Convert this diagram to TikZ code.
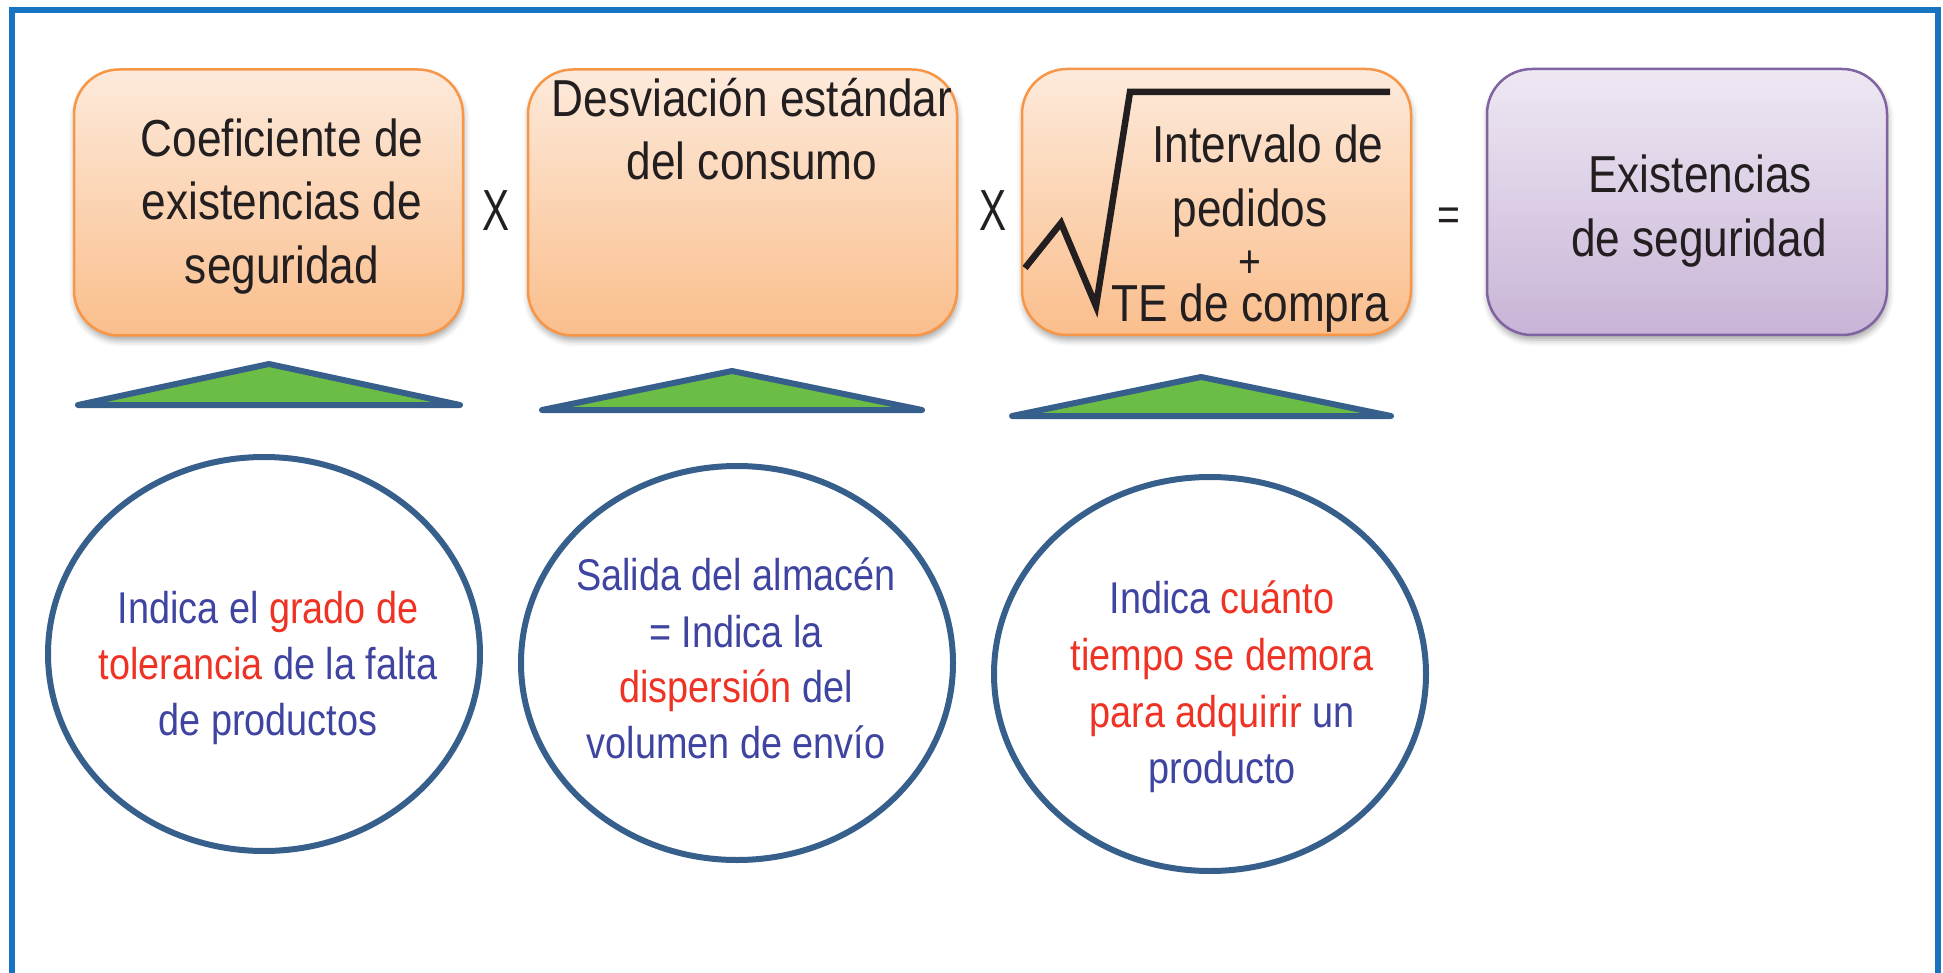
\documentclass[tikz,border=0pt]{standalone}
\usepackage{fontspec}
\usetikzlibrary{shapes.geometric,shadows.blur}
\newfontfamily\nar{Liberation Sans}[FakeStretch=0.85]
\newfontfamily\narx{Liberation Sans}[FakeStretch=0.7]
\definecolor{framec}{RGB}{24,116,192}
\definecolor{orgtop}{RGB}{253,234,219}
\definecolor{orgbot}{RGB}{250,190,140}
\definecolor{orgline}{RGB}{247,150,70}
\definecolor{purtop}{RGB}{238,232,243}
\definecolor{purbot}{RGB}{200,180,215}
\definecolor{purline}{RGB}{128,100,162}
\definecolor{navy}{RGB}{55,95,140}
\definecolor{trigreen}{RGB}{108,189,69}
\definecolor{tblue}{RGB}{62,68,160}
\definecolor{tred}{RGB}{238,51,36}
\definecolor{tdark}{RGB}{35,31,32}
\begin{document}
\begin{tikzpicture}[x=1pt,y=-1pt,
  frameline/.style={draw=framec,line width=6pt},
  boxbase/.style={rectangle,rounded corners=45pt,line width=2.5pt,inner sep=0pt,
     blur shadow={shadow xshift=1pt,shadow yshift=-5pt,shadow blur radius=6pt,shadow opacity=35}},
  orangebox/.style={boxbase,draw=orgline,top color=orgtop,bottom color=orgbot},
  purplebox/.style={boxbase,draw=purline,top color=purtop,bottom color=purbot},
  boxtxt/.style={font=\nar\fontsize{52}{62}\selectfont,text=tdark,anchor=base,inner sep=0pt},
  plustxt/.style={font=\nar\fontsize{46}{50}\selectfont,text=tdark,anchor=center,inner sep=0pt},
  optxt/.style={font=\narx\fontsize{58}{62}\selectfont,text=tdark,anchor=base,inner sep=0pt},
  eqtxt/.style={font=\nar\fontsize{46}{50}\selectfont,text=tdark,anchor=center,inner sep=0pt},
  elltxt/.style={font=\nar\fontsize{44.5}{56}\selectfont,text=tblue,anchor=base,inner sep=0pt},
  oval/.style={ellipse,draw=navy,line width=6pt,inner sep=0pt,minimum width=432pt,minimum height=394pt},
  wedge/.style={draw=navy,fill=trigreen,line width=6pt,line join=round,line cap=round},
  radical/.style={draw=tdark,line width=6.5pt,line join=miter},
]
\useasboundingbox (0,0) rectangle (1943,973);

% frame
\coordinate (f1) at (12,973);
\coordinate (f2) at (12,10);
\coordinate (f3) at (1938,10);
\coordinate (f4) at (1938,973);
\draw[frameline] (f1) -- (f2) -- (f3) -- (f4);

% boxes
\node[orangebox,minimum width=389pt,minimum height=266pt] (b1) at (268.5,202.5) {};
\node[orangebox,minimum width=429pt,minimum height=266pt] (b2) at (742.5,202.5) {};
\node[orangebox,minimum width=389pt,minimum height=266pt] (b3) at (1216.5,202) {};
\node[purplebox,minimum width=400pt,minimum height=266pt] (b4) at (1687,202) {};

% box texts
\node[boxtxt] (b1a) at (282,157) {Coeficiente de};
\node[boxtxt] (b1b) at (282,220) {existencias de};
\node[boxtxt] (b1c) at (282,284) {seguridad};
\node[boxtxt] (b2a) at (752,117) {Desviación estándar};
\node[boxtxt] (b2b) at (752,180) {del consumo};
\node[boxtxt] (b3a) at (1268,163) {Intervalo de};
\node[boxtxt] (b3b) at (1250,227) {pedidos};
\node[plustxt] (b3c) at (1250,264) {+};
\node[boxtxt] (b3d) at (1250,322) {TE de compra};
\node[boxtxt] (b4a) at (1700,193) {Existencias};
\node[boxtxt] (b4b) at (1699,257) {de seguridad};

% radical sign
\coordinate (r1) at (1025,268);
\coordinate (r2) at (1061,223);
\coordinate (r3) at (1096,306);
\coordinate (r4) at (1130,92);
\coordinate (r5) at (1390,92);
\draw[radical] (r1) -- (r2) -- (r3) -- (r4) -- (r5);

% operators
\node[optxt] (x1) at (496,231) {X};
\node[optxt] (x2) at (993,231) {X};
\node[eqtxt] (eq) at (1449,219) {=};

% triangles
\coordinate (t1l) at (78,405);  \coordinate (t1t) at (269,364);  \coordinate (t1r) at (460,405);
\coordinate (t2l) at (542,410); \coordinate (t2t) at (732,371);  \coordinate (t2r) at (922,410);
\coordinate (t3l) at (1012,416);\coordinate (t3t) at (1201,377); \coordinate (t3r) at (1391,416);
\draw[wedge] (t1l) -- (t1t) -- (t1r) -- cycle;
\draw[wedge] (t2l) -- (t2t) -- (t2r) -- cycle;
\draw[wedge] (t3l) -- (t3t) -- (t3r) -- cycle;

% ellipses
\node[oval] (e1) at (264,654) {};
\node[oval] (e2) at (737,663) {};
\node[oval] (e3) at (1210,674) {};

% ellipse texts
\node[elltxt] (e1a) at (268,623) {Indica el \textcolor{tred}{grado de}};
\node[elltxt] (e1b) at (268,679) {\textcolor{tred}{tolerancia} de la falta};
\node[elltxt] (e1c) at (268,735) {de productos};

\node[elltxt] (e2a) at (736,590) {Salida del almacén};
\node[elltxt] (e2b) at (736,647) {= Indica la};
\node[elltxt] (e2c) at (736,702) {\textcolor{tred}{dispersión} del};
\node[elltxt] (e2d) at (736,758) {volumen de envío};

\node[elltxt] (e3a) at (1222,613) {Indica \textcolor{tred}{cuánto}};
\node[elltxt,text=tred] (e3b) at (1222,670) {tiempo se demora};
\node[elltxt] (e3c) at (1222,727) {\textcolor{tred}{para adquirir} un};
\node[elltxt] (e3d) at (1222,783) {producto};
\end{tikzpicture}
\end{document}
